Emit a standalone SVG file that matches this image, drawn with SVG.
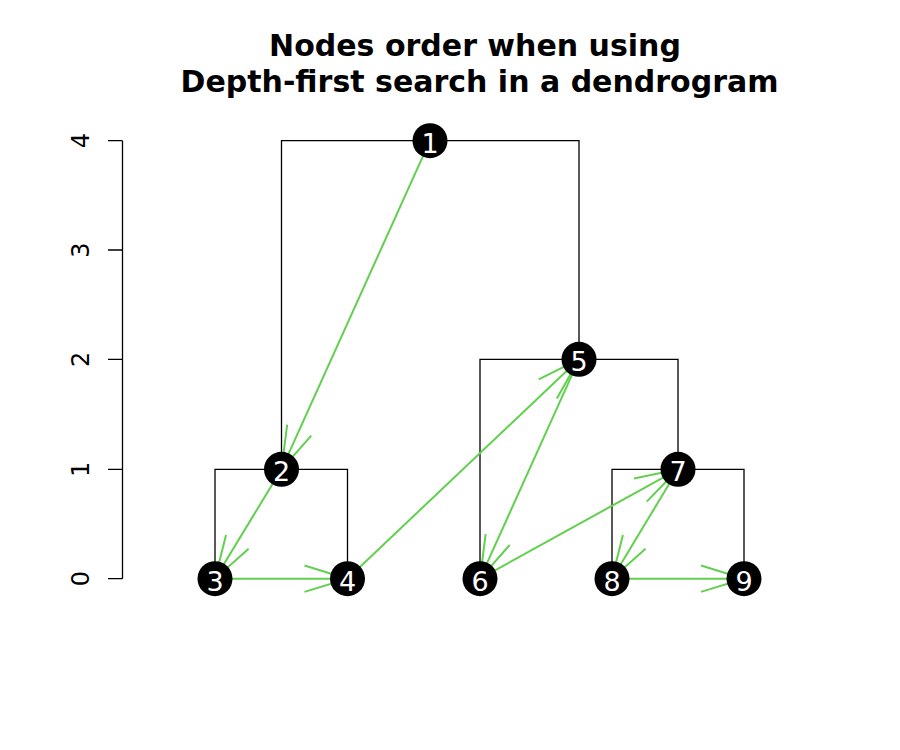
<svg xmlns="http://www.w3.org/2000/svg" width="900" height="750" viewBox="0 0 900 750">
<style>
.title{font-family:"DejaVu Sans",sans-serif;font-weight:bold;font-size:30px;fill:#000;text-anchor:middle}
.axis{font-family:"DejaVu Sans",sans-serif;font-size:24px;fill:#000;text-anchor:middle}
.tree{stroke:#000;stroke-width:1.3;fill:none}
.edge{stroke:#61D04F;stroke-width:2;fill:none;marker-end:url(#arr)}
.node circle{fill:#000}
.node text{font-family:"DejaVu Sans",sans-serif;font-size:27px;fill:#fff;text-anchor:middle}
</style>
<defs>
<marker id="arr" markerUnits="userSpaceOnUse" orient="auto" refX="0" refY="0" markerWidth="100" markerHeight="100" viewBox="-50 -50 100 100" overflow="visible">
<path d="M-43,-13.2 L0,0 L-43,13.2" stroke="#61D04F" stroke-width="2" fill="none"/>
</marker>
</defs>
<rect width="900" height="750" fill="#fff"/>
<text class="title" x="475" y="55.5">Nodes order when using</text>
<text class="title" x="479.5" y="92">Depth-first search in a dendrogram</text>
<g id="axis">
<path class="tree" d="M122.5,140.7V578.7M108,140.7H122.5M108,250H122.5M108,359.3H122.5M108,469.3H122.5M108,578.7H122.5"/>
<text class="axis" transform="translate(88.5,578.7) rotate(-90)">0</text>
<text class="axis" transform="translate(88.5,469.3) rotate(-90)">1</text>
<text class="axis" transform="translate(88.5,359.3) rotate(-90)">2</text>
<text class="axis" transform="translate(88.5,250) rotate(-90)">3</text>
<text class="axis" transform="translate(88.5,140.7) rotate(-90)">4</text>
</g>
<g id="dendrogram">
<path class="tree" d="M281.5,469.3V140.7H579V359.3"/>
<path class="tree" d="M215,578.7V469.3H347.5V578.7"/>
<path class="tree" d="M480,578.7V359.3H678V469.3"/>
<path class="tree" d="M612,578.7V469.3H744V578.7"/>
</g>
<g id="connectors">
<line class="edge" x1="430" y1="140.7" x2="281.5" y2="469.3"/>
<line class="edge" x1="281.5" y1="469.3" x2="215" y2="578.7"/>
<line class="edge" x1="215" y1="578.7" x2="347.5" y2="578.7"/>
<line class="edge" x1="347.5" y1="578.7" x2="579" y2="359.3"/>
<line class="edge" x1="579" y1="359.3" x2="480" y2="578.7"/>
<line class="edge" x1="480" y1="578.7" x2="678" y2="469.3"/>
<line class="edge" x1="678" y1="469.3" x2="612" y2="578.7"/>
<line class="edge" x1="612" y1="578.7" x2="744" y2="578.7"/>
</g>
<g id="n1" class="node"><circle cx="430" cy="140.7" r="17.5"/><text x="430" y="152.5">1</text></g>
<g id="n2" class="node"><circle cx="281.5" cy="469.3" r="17.5"/><text x="281.5" y="481.3">2</text></g>
<g id="n3" class="node"><circle cx="215" cy="578.7" r="17.5"/><text x="215" y="590.5">3</text></g>
<g id="n4" class="node"><circle cx="347.5" cy="578.7" r="17.5"/><text x="347.5" y="590.5">4</text></g>
<g id="n5" class="node"><circle cx="579" cy="359.3" r="17.5"/><text x="579" y="371.2">5</text></g>
<g id="n6" class="node"><circle cx="480" cy="578.7" r="17.5"/><text x="480" y="590.5">6</text></g>
<g id="n7" class="node"><circle cx="678" cy="469.3" r="17.5"/><text x="678" y="481.3">7</text></g>
<g id="n8" class="node"><circle cx="612" cy="578.7" r="17.5"/><text x="612" y="590.5">8</text></g>
<g id="n9" class="node"><circle cx="744" cy="578.7" r="17.5"/><text x="744" y="590.5">9</text></g>
</svg>
